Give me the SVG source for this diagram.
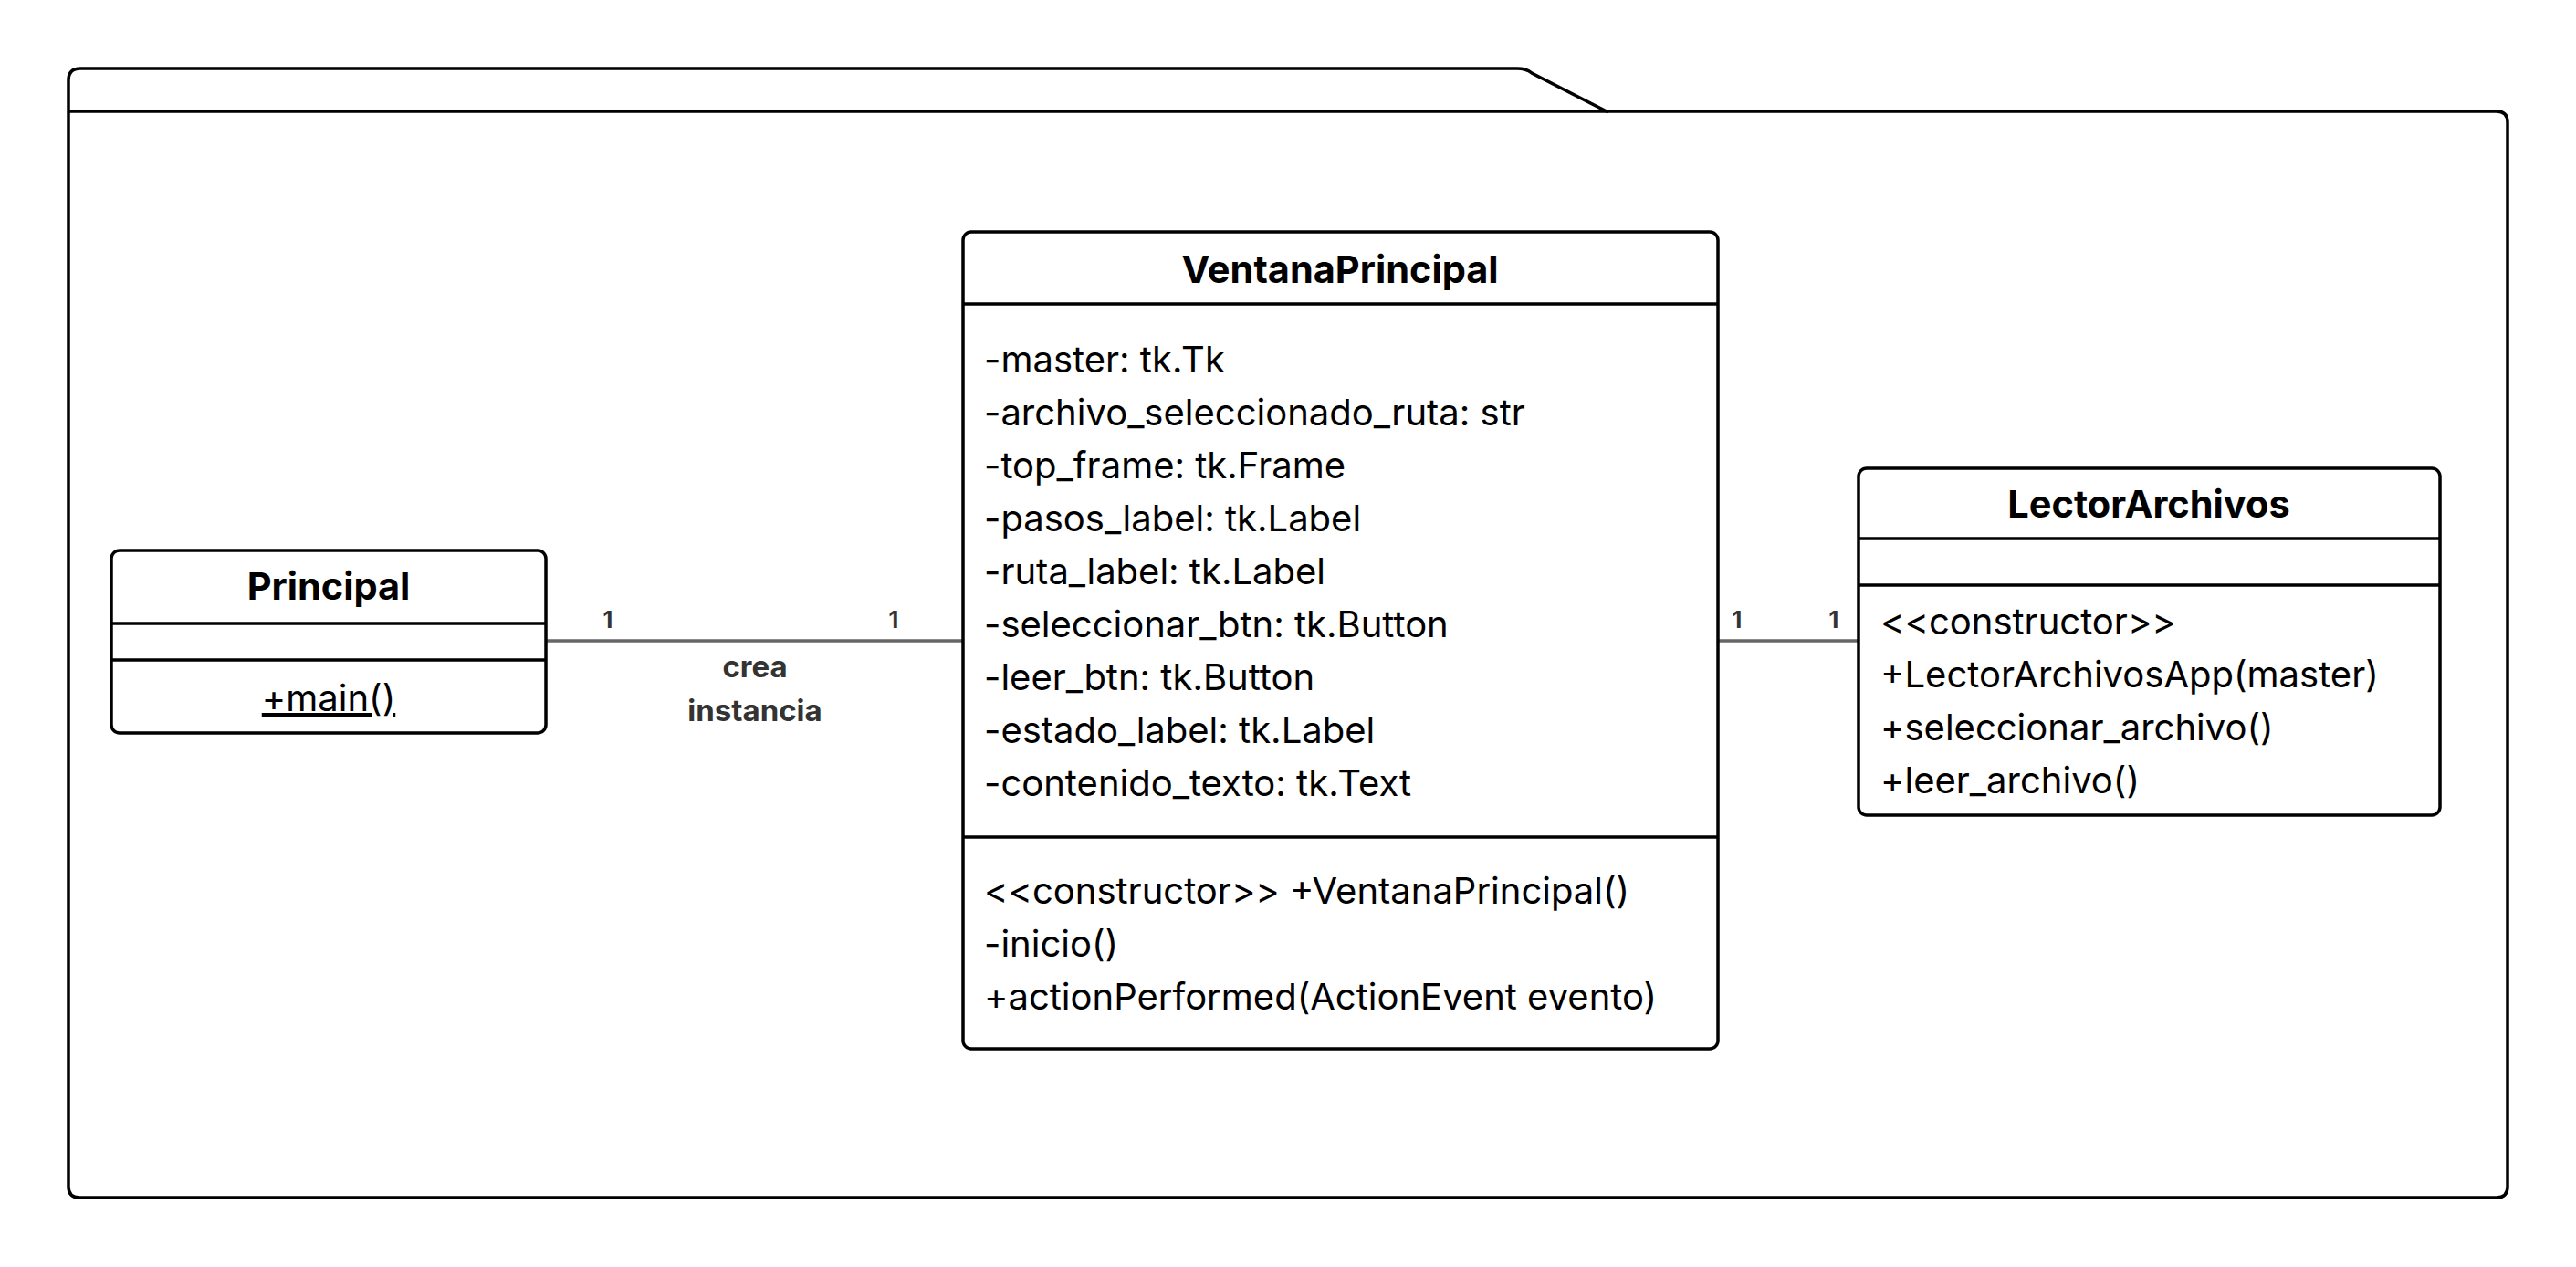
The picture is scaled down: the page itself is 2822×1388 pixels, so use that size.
<svg xmlns="http://www.w3.org/2000/svg" width="2822" height="1388" viewBox="0 0 2822 1388">
<style>
.box{fill:#fff;stroke:#000;stroke-width:3.5}
.sep{stroke:#000;stroke-width:3.5}
.title{font-family:Inter,"Liberation Sans",sans-serif;font-weight:700;font-size:41.5px;fill:#000;text-anchor:middle}
.txt{font-family:Inter,"Liberation Sans",sans-serif;font-size:40px;fill:#000}
.lbl{font-family:Inter,"Liberation Sans",sans-serif;font-weight:700;fill:#333}
.conn{stroke:#666;stroke-width:3.5;fill:none}
</style>
<rect width="2822" height="1388" fill="#fff"/>
<g id="package">
<path d="M75,122 L75,88 Q75,75 88,75 L1662,75 Q1672,75 1678,80 L1760,122 L2735,122 Q2747,122 2747,134 L2747,1300 Q2747,1312 2735,1312 L87,1312 Q75,1312 75,1300 Z" fill="#fff" stroke="#000" stroke-width="3.5"/>
<line x1="75" y1="122" x2="1762" y2="122" class="sep"/>
</g>
<g id="connectors">
<line x1="598" y1="702" x2="1055" y2="702" class="conn"/>
<line x1="1882" y1="702" x2="2036" y2="702" class="conn"/>
<text class="lbl" x="666" y="688" font-size="25" text-anchor="middle">1</text>
<text class="lbl" x="979" y="688" font-size="25" text-anchor="middle">1</text>
<text class="lbl" x="827" y="742" font-size="33" text-anchor="middle">crea</text>
<text class="lbl" x="827" y="790" font-size="33" text-anchor="middle">instancia</text>
<text class="lbl" x="1903" y="688" font-size="25" text-anchor="middle">1</text>
<text class="lbl" x="2009" y="688" font-size="25" text-anchor="middle">1</text>
</g>
<g id="Principal">
<rect class="box" x="122" y="603" width="476" height="200" rx="9"/>
<line class="sep" x1="122" y1="683" x2="598" y2="683"/>
<line class="sep" x1="122" y1="723" x2="598" y2="723"/>
<text class="title" x="360" y="657">Principal</text>
<text class="txt" x="360" y="779" font-size="42" text-anchor="middle" text-decoration="underline">+main()</text>
</g>
<g id="VentanaPrincipal">
<rect class="box" x="1055" y="254" width="827" height="895" rx="9"/>
<line class="sep" x1="1055" y1="333" x2="1882" y2="333"/>
<line class="sep" x1="1055" y1="917" x2="1882" y2="917"/>
<text class="title" x="1468" y="310">VentanaPrincipal</text>
<text class="txt" x="1078" y="408">-master: tk.Tk</text>
<text class="txt" x="1078" y="466">-archivo_seleccionado_ruta: str</text>
<text class="txt" x="1078" y="524">-top_frame: tk.Frame</text>
<text class="txt" x="1078" y="582">-pasos_label: tk.Label</text>
<text class="txt" x="1078" y="640">-ruta_label: tk.Label</text>
<text class="txt" x="1078" y="698">-seleccionar_btn: tk.Button</text>
<text class="txt" x="1078" y="756">-leer_btn: tk.Button</text>
<text class="txt" x="1078" y="814">-estado_label: tk.Label</text>
<text class="txt" x="1078" y="872">-contenido_texto: tk.Text</text>
<text class="txt" x="1078" y="990">&lt;&lt;constructor&gt;&gt; +VentanaPrincipal()</text>
<text class="txt" x="1078" y="1048">-inicio()</text>
<text class="txt" x="1078" y="1106">+actionPerformed(ActionEvent evento)</text>
</g>
<g id="LectorArchivos">
<rect class="box" x="2036" y="513" width="637" height="380" rx="9"/>
<line class="sep" x1="2036" y1="590" x2="2673" y2="590"/>
<line class="sep" x1="2036" y1="641" x2="2673" y2="641"/>
<text class="title" x="2354" y="567">LectorArchivos</text>
<text class="txt" x="2060" y="695">&lt;&lt;constructor&gt;&gt;</text>
<text class="txt" x="2060" y="753">+LectorArchivosApp(master)</text>
<text class="txt" x="2060" y="811">+seleccionar_archivo()</text>
<text class="txt" x="2060" y="869">+leer_archivo()</text>
</g>
</svg>
